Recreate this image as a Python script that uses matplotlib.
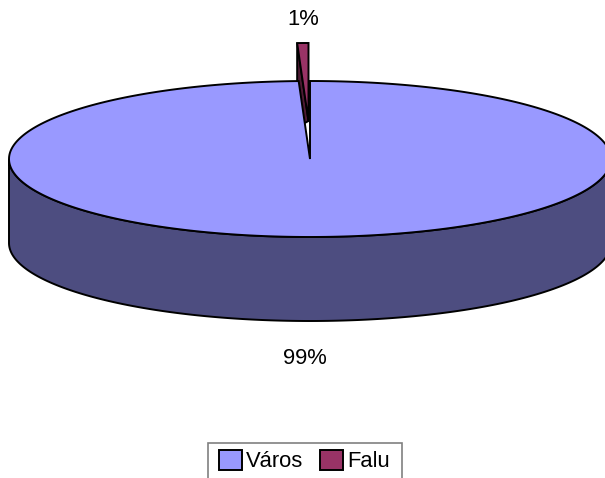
#!/usr/bin/env python3
"""Hungarian Excel-style 3D pie: Város / Falu share."""
import numpy as np
import matplotlib
matplotlib.use("Agg")
import matplotlib.pyplot as plt
from matplotlib.patches import Polygon, Patch, Rectangle

plt.rcParams["font.family"] = ["Liberation Sans", "DejaVu Sans"]

categories = ["Város", "Falu"]
values = [99.4, 0.6]
colors = ["#9999FF", "#993366"]
side_colors = ["#4D4D80", "#4D1A33"]

W, H = 605, 478
CX, CY, RX, RY, DEPTH = 310, 159, 301, 78, 84
EXPLODE = (-1.5, -38)
LW = 1.4

fig = plt.figure(figsize=(W/100, H/100), dpi=100)
ax = fig.add_axes([0, 0, 1, 1])
ax.set_xlim(0, W)
ax.set_ylim(H, 0)
ax.axis("off")


def rim(a0, a1, dx=0, dy=0, n=300):
    # angle is clockwise from 12 o'clock, degrees
    t = np.radians(np.linspace(a0, a1, n))
    return np.column_stack((CX+dx+RX*np.sin(t), CY+dy-RY*np.cos(t)))


angle = 360*np.array(values)/sum(values)

# exploded small slice sits behind the big one: left cut face, then top
arc = rim(360-angle[1], 360, *EXPLODE)
apex = (CX+EXPLODE[0], CY+EXPLODE[1])
ax.add_patch(Polygon([arc[0], arc[0]+(0, DEPTH), apex], fc=side_colors[1], ec="black",
                     lw=LW, zorder=2))
ax.add_patch(Polygon(np.vstack(([apex], arc)), fc=colors[1], ec="black", lw=LW, zorder=3,
                     joinstyle="miter"))

# big slice: side wall only for the front half, top over it
front = rim(90, 270)
ax.add_patch(Polygon(np.vstack((front, (front+(0, DEPTH))[::-1])), fc=side_colors[0],
                     ec="black", lw=LW, zorder=4))
top = np.vstack(([(CX, CY)], rim(0, angle[0])))
ax.add_patch(Polygon(top, fc=colors[0], ec="black", lw=LW, zorder=5, joinstyle="miter"))

ax.text(303, 19, f"{round(values[1])}%", ha="center", va="center", fontsize=15.8, color="black")
ax.text(305, 358, f"{round(values[0])}%", ha="center", va="center", fontsize=15.8, color="black")

# legend box runs past the bottom of the picture
ax.add_patch(Rectangle((208, 443), 194, 45, fc="white", ec="#808080", lw=1.2, zorder=6))
handles = [Patch(fc=c, ec="black", lw=1.4) for c in colors]
leg = ax.legend(handles, categories, loc="upper left", bbox_to_anchor=(219, 449.5),
                bbox_transform=ax.transData, ncols=2, fontsize=15.8, frameon=False,
                borderaxespad=0, borderpad=0, handlelength=1.05, handleheight=1.05,
                handletextpad=0.18, columnspacing=0.76)
leg.set_zorder(7)

fig.savefig("out.png", dpi=100, facecolor="white")
